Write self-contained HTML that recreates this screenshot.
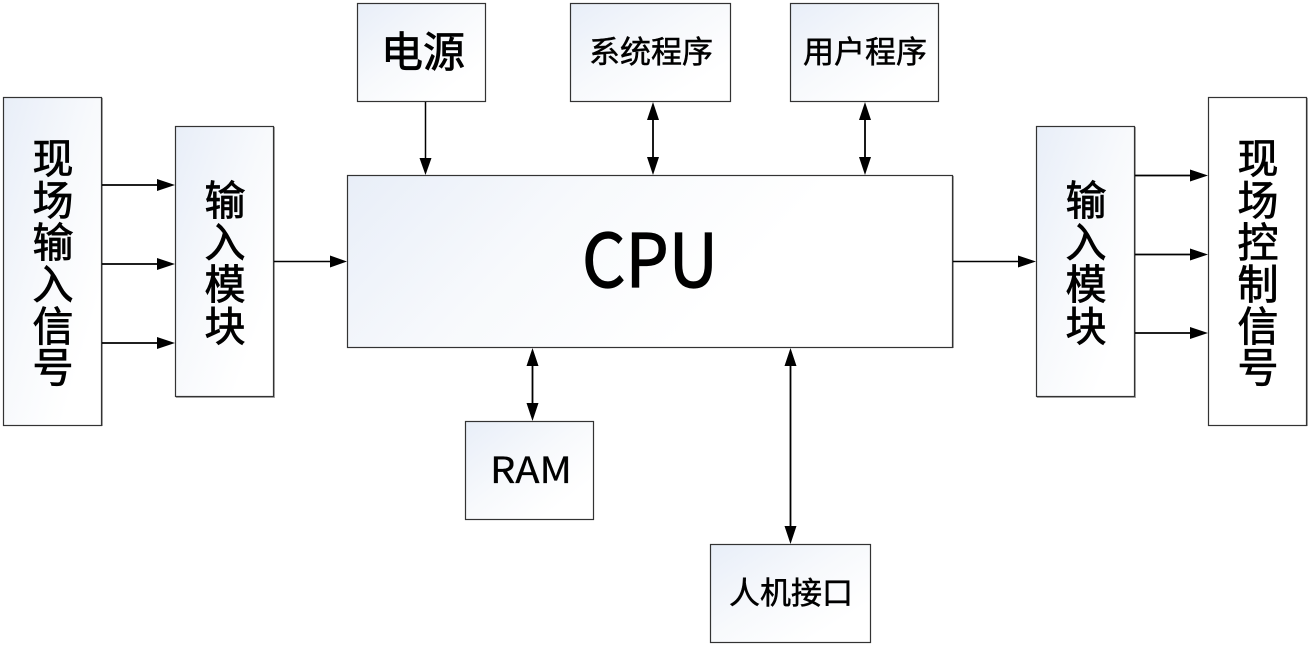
<!DOCTYPE html>
<html><head><meta charset="utf-8">
<style>
html,body{margin:0;padding:0;background:#fff}
svg{display:block}
.c{font-family:"Liberation Sans","Noto Sans CJK SC",sans-serif;fill:#000;stroke:#000;stroke-width:.8;text-anchor:middle}
.s{stroke-width:.5}
.l{font-family:"Noto Sans CJK SC","Liberation Sans",sans-serif;fill:#000;stroke:#000;text-anchor:middle}
.b{stroke:#333;stroke-width:1.2}
.a{stroke:#000;stroke-width:1.5;fill:none}
</style></head><body>
<svg width="1309" height="646" viewBox="0 0 1309 646" xmlns="http://www.w3.org/2000/svg">
<defs>
<linearGradient id="g" x1="0" y1="0" x2="1" y2="1">
<stop offset="0" stop-color="#e8eef8"/><stop offset="0.45" stop-color="#f7f9fc"/><stop offset="0.8" stop-color="#fff"/>
</linearGradient>
<linearGradient id="h" gradientUnits="userSpaceOnUse" x1="347" y1="175" x2="600" y2="420">
<stop offset="0" stop-color="#e8eef8"/><stop offset="0.5" stop-color="#f7f9fc"/><stop offset="1" stop-color="#fff"/>
</linearGradient>
</defs>

<!-- boxes -->
<g fill="#aaa">
<rect x="4" y="98" width="99" height="328"/><rect x="176" y="127" width="99" height="271"/>
<rect x="348" y="176" width="606" height="172"/><rect x="358" y="4" width="128" height="98"/>
<rect x="571" y="4" width="160" height="98"/><rect x="791" y="4" width="148" height="98"/>
<rect x="466" y="422" width="128" height="98"/><rect x="711" y="545" width="160" height="98"/>
<rect x="1037" y="127" width="99" height="271"/><rect x="1209" y="98" width="99" height="328"/>
</g>
<g class="b" fill="url(#g)">
<rect x="3.5" y="97.5" width="98" height="328"/>
<rect x="175.5" y="126.5" width="98" height="270"/>
<rect x="347.5" y="175.5" width="605" height="172" fill="url(#h)"/>
<rect x="357.5" y="3.5" width="128" height="98"/>
<rect x="570.5" y="3.5" width="160" height="98"/>
<rect x="790.5" y="3.5" width="148" height="98"/>
<rect x="465.5" y="421.5" width="128" height="98"/>
<rect x="710.5" y="544.5" width="160" height="98"/>
<rect x="1036.5" y="126.5" width="98" height="270"/>
<rect x="1208.5" y="97.5" width="98" height="328" fill="#fff"/>
</g>

<!-- connector lines -->
<g class="a">
<path d="M102 185H160M102 264H160M102 343H160" stroke-width="1.8"/>
<path d="M274 261.500H334"/>
<path d="M425.500 102V163"/>
<path d="M653 114V163" stroke-width="1.8"/>
<path d="M865 114V163" stroke-width="1.8"/>
<path d="M532.500 360V409" stroke-width="1.8"/>
<path d="M790.500 360V532" stroke-width="1.8"/>
<path d="M953 261.500H1022"/>
<path d="M1135 175.500H1194M1135 254.500H1194M1135 333H1194" stroke-width="1.8"/>
</g>

<!-- arrowheads -->
<g fill="#000">
<path d="M175 185L157 179V191ZM175 264L157 258V270ZM175 343L157 337V349Z"/>
<path d="M347 261.500L330 255.500V267.500Z"/>
<path d="M425.500 175L419.500 158H431.500Z"/>
<path d="M653 102L647 120H659ZM653 175L647 157H659Z"/>
<path d="M865 102L859 120H871ZM865 175L859 157H871Z"/>
<path d="M532.500 348L526.500 366H538.500ZM532.500 421L526.500 403H538.500Z"/>
<path d="M790.500 348L784.500 366H796.500ZM790.500 544L784.500 526H796.500Z"/>
<path d="M1036 261.500L1018 255.500V267.500Z"/>
<path d="M1208 175.500L1190 169.500V181.500ZM1208 254.500L1190 248.500V260.500ZM1208 333L1190 327V339Z"/>
</g>

<!-- labels -->
<g class="c" font-size="41">
<text x="53" y="173">现</text><text x="53" y="215">场</text><text x="53" y="257">输</text><text x="53" y="299">入</text><text x="53" y="341">信</text><text x="53" y="382">号</text>
<text x="225" y="215">输</text><text x="225" y="257">入</text><text x="225" y="299">模</text><text x="225" y="341">块</text>
<text x="1086" y="215">输</text><text x="1086" y="257">入</text><text x="1086" y="299">模</text><text x="1086" y="341">块</text>
<text x="1258" y="173">现</text><text x="1258" y="215">场</text><text x="1258" y="257">控</text><text x="1258" y="299">制</text><text x="1258" y="341">信</text><text x="1258" y="382">号</text>
<text x="423" y="67" font-size="42">电源</text>
</g>
<g class="c s" font-size="31">
<text x="651" y="63">系统程序</text>
<text x="865" y="63">用户程序</text>
<text x="791" y="604">人机接口</text>
</g>
<text class="l" x="650" y="287" font-size="74" stroke-width="1.2" textLength="136" lengthAdjust="spacingAndGlyphs">CPU</text>
<text class="l" x="531" y="483" font-size="36" stroke-width=".3" textLength="82" lengthAdjust="spacingAndGlyphs">RAM</text>
</svg>
</body></html>
